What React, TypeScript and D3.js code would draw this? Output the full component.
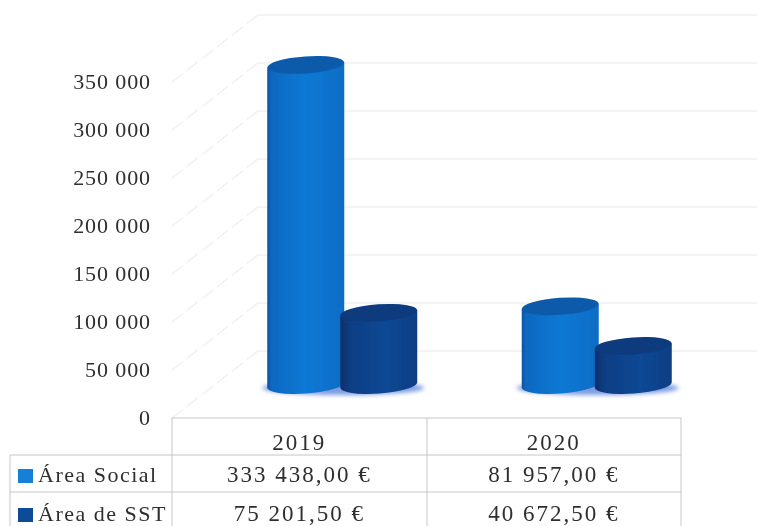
import React from "react";
import * as d3 from "d3";

const years = ["2019", "2020"];
const seriesNames = ["Área Social", "Área de SST"];
const areaSocial = [333438, 81957];
const areaSST = [75201.5, 40672.5];
const areaSocialLabels = ["333 438,00 €", "81 957,00 €"];
const areaSSTLabels = ["75 201,50 €", "40 672,50 €"];
const ticks = [0, 50000, 100000, 150000, 200000, 250000, 300000, 350000];

const W = 757, H = 526;
const yFront = d3.scaleLinear().domain([0, 350000]).range([418, 82]);
const x = d3.scaleBand<string>().domain(years).range([172, 681]);
const depth = { dx: 86, dy: -67 };
const barDepth = { dx: 43, dy: -33 };
const halfW = 38.5;
const seriesOffset = [-36.5, 36.5];
const ry = 8.5;
const fmt = (v: number) => d3.format(",")(v).replace(/,/g, " ");
const font = "'Liberation Serif', serif";

const colors = [
  { side: "url(#lightSide)", top: "#0a5aaa", legend: "#1580d8" },
  { side: "url(#darkSide)", top: "#083a7e", legend: "#0f4c98" },
];

function Cylinder({ cx, value, s }: { cx: number; value: number; s: number }) {
  const base = yFront(0) + barDepth.dy;
  const top = yFront(value) + barDepth.dy;
  const tilt = -4;
  const dyEdge = halfW * Math.sin((tilt * Math.PI) / 180);
  const side = `M${cx - halfW},${top - dyEdge} L${cx - halfW},${base - dyEdge}
    A${halfW},${ry} ${tilt} 0 0 ${cx + halfW},${base + dyEdge}
    L${cx + halfW},${top + dyEdge} Z`;
  return (
    <g>
      <path d={side} fill={colors[s].side} />
      <ellipse cx={cx} cy={top} rx={halfW} ry={ry} fill={colors[s].top} transform={`rotate(${tilt} ${cx} ${top})`} />
    </g>
  );
}

export default function App() {
  const rows = [
    { name: seriesNames[0], labels: areaSocialLabels, y: 480, sq: 0 },
    { name: seriesNames[1], labels: areaSSTLabels, y: 519, sq: 1 },
  ];
  return (
    <svg width={W} height={H} style={{ position: "absolute", left: 0, top: 0, background: "#fff" }}>
      <defs>
        <linearGradient id="lightSide" x1="0" x2="1" y1="0" y2="0">
          <stop offset="0" stopColor="#0b4f9f" />
          <stop offset="0.05" stopColor="#0e68c0" />
          <stop offset="0.5" stopColor="#1079d4" />
          <stop offset="1" stopColor="#0e6cc6" />
        </linearGradient>
        <linearGradient id="darkSide" x1="0" x2="1" y1="0" y2="0">
          <stop offset="0" stopColor="#07306e" />
          <stop offset="0.15" stopColor="#0a3f86" />
          <stop offset="0.6" stopColor="#0b4894" />
          <stop offset="1" stopColor="#093e84" />
        </linearGradient>
        <filter id="soft" x="-5%" y="-5%" width="110%" height="110%">
          <feGaussianBlur stdDeviation="0.6" />
        </filter>
        <filter id="shadow" x="-30%" y="-80%" width="160%" height="260%">
          <feGaussianBlur stdDeviation="2" />
        </filter>
      </defs>

      <g stroke="#ece8f1" strokeWidth={1.2} fill="none" filter="url(#soft)">
        {ticks.map((t) => {
          const yf = yFront(t);
          return (
            <g key={t}>
              <path d={`M172,${yf} L${172 + depth.dx},${yf + depth.dy}`} strokeDasharray="14 5" stroke="#f0edf3" />
              <path d={`M${172 + depth.dx},${yf + depth.dy} L${W},${yf + depth.dy}`} />
            </g>
          );
        })}
      </g>

      <g filter="url(#soft)">
        {years.map((yr) => {
          const c = x(yr)! + x.bandwidth() / 2 + barDepth.dx;
          const base = yFront(0) + barDepth.dy;
          return (
            <ellipse key={yr} cx={c + 1} cy={base + 3} rx={81} ry={7} fill="#6f92de" opacity={0.9} filter="url(#shadow)" />
          );
        })}
        {years.map((yr, i) => {
          const c = x(yr)! + x.bandwidth() / 2 + barDepth.dx;
          return (
            <g key={yr}>
              <Cylinder cx={c + seriesOffset[0]} value={areaSocial[i]} s={0} />
              <Cylinder cx={c + seriesOffset[1]} value={areaSST[i]} s={1} />
            </g>
          );
        })}
      </g>

      <g filter="url(#soft)">
        <g stroke="#c6c6ca" strokeWidth={1} fill="none">
          <path d="M172,418 H681 M172,418 V526 M427,418 V526 M681,418 V526" />
          <path d="M10,455 H681 M10,492 H681 M10,455 V526" />
        </g>
        <g fontFamily={font} fill="#2e2e2e">
          <g fontSize={22} letterSpacing={0.9}>
            {ticks.map((t) => (
              <text key={t} x={151} y={yFront(t) + 7} textAnchor="end">{fmt(t)}</text>
            ))}
          </g>
          <g fontSize={23} letterSpacing={2}>
            {years.map((yr) => (
              <text key={yr} x={x(yr)! + x.bandwidth() / 2} y={450} textAnchor="middle">{yr}</text>
            ))}
          </g>
          {rows.map((r) => (
            <g key={r.name}>
              <rect x={18} y={r.y - 11} width={15} height={14} fill={colors[r.sq].legend} />
              <text x={38} y={r.y + 2} fontSize={22} letterSpacing={1.5}>{r.name}</text>
              {years.map((yr, i) => (
                <text key={yr} x={x(yr)! + x.bandwidth() / 2} y={r.y + 2} textAnchor="middle" fontSize={23} letterSpacing={2}>{r.labels[i]}</text>
              ))}
            </g>
          ))}
        </g>
      </g>
    </svg>
  );
}
